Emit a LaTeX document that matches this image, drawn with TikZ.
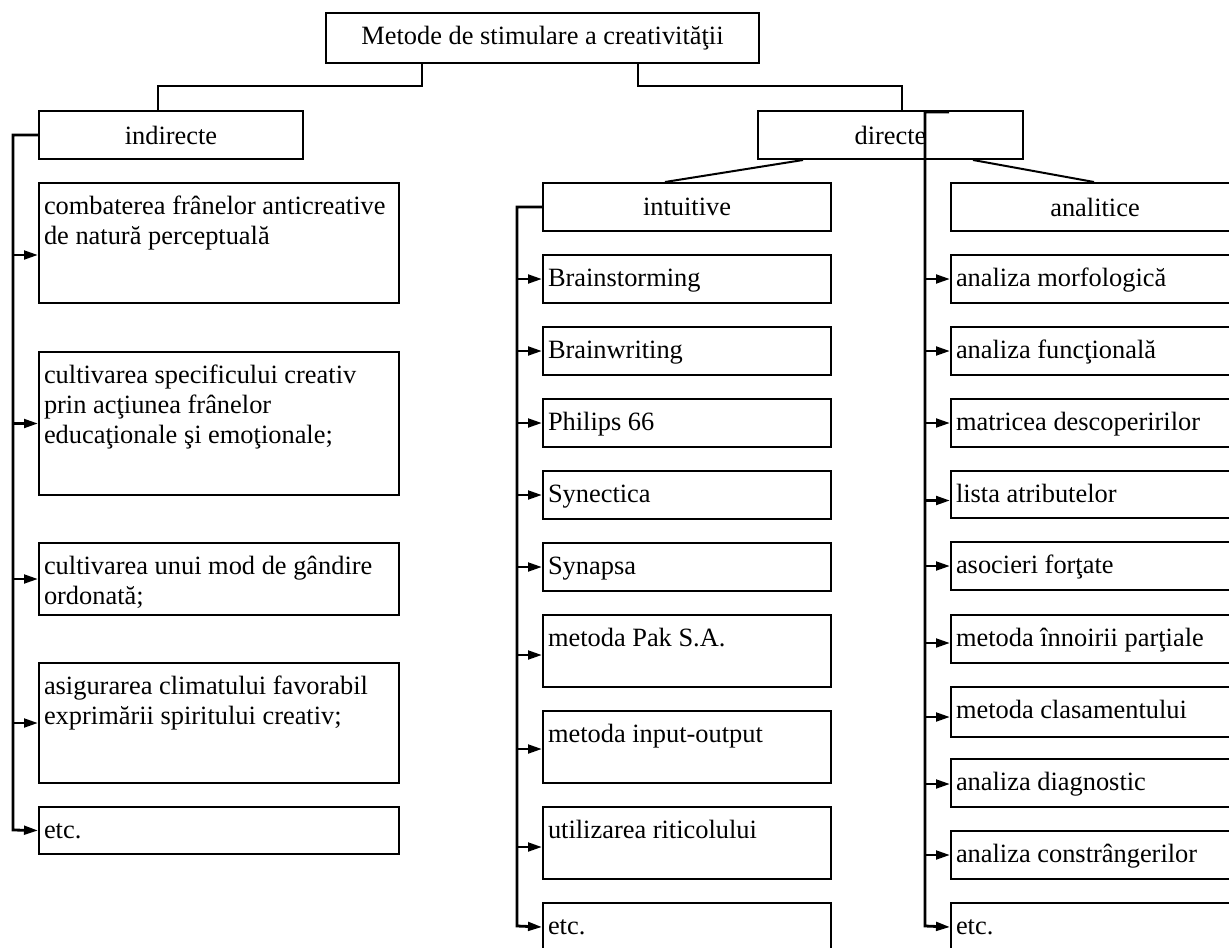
\documentclass[tikz,border=0pt]{standalone}
\usepackage{fontspec}
\setmainfont{Liberation Serif}
\usetikzlibrary{arrows.meta,calc}
\newlength\pxu \setlength\pxu{0.75pt}
\tikzset{
  txt/.style={font=\fontsize{19.8}{22.5}\selectfont},
  bx/.style={draw, line width=1.5pt, inner xsep=3.75pt, inner ysep=0pt, anchor=north west, txt},
  cbx/.style={draw, line width=1.5pt, inner sep=0pt, anchor=north west, align=center, txt},
  conn/.style={line width=1.5pt, line join=miter},
  arr/.style={line width=2.1pt, line join=miter, -{Triangle[length=10.5pt,width=6.5pt]}},
}
% \tbox{name}{x}{y}{w}{h}{text}
\newcommand\tbox[6]{\node[bx] (#1) at (#2,#3) {\parbox[c][#5\pxu][t]{\dimexpr#4\pxu-10\pxu\relax}{\raggedright\rule{0pt}{31\pxu}#6}};}
% \cbox{name}{x}{y}{w}{h}{text}
\newcommand\cbox[6]{\node[cbx, minimum width=#4*0.75pt, minimum height=#5*0.75pt] (#1) at (#2,#3) {#6};}
% \arrto{line coordinate}{node}{y offset px}
\newcommand\arrto[3]{\path ([yshift=-#3*0.75pt]#2.west) coordinate (tmp); \draw[arr] (tmp -| #1) -- (tmp);}
\begin{document}
\begin{tikzpicture}[x=0.75pt,y=-0.75pt]
\useasboundingbox (0,0) rectangle (1229,947);
\clip (0,0) rectangle (1229,947);

% top level
\cbox{top}{325}{12}{433}{50}{Metode de stimulare a creativităţii}
\cbox{ind}{38}{110}{264}{48}{indirecte}
\cbox{dir}{757}{110}{265}{48}{directe}
\cbox{int}{542}{182}{288}{48}{intuitive}
\cbox{ana}{950}{182}{288}{48}{analitice}

\coordinate (j1) at (422,86);
\coordinate (k1) at (158,86);
\coordinate (j2) at (638,86);
\coordinate (k2) at (902,86);
\draw[conn] (top.south -| j1) -- (j1) -- (k1) -- (k1 |- ind.north);
\draw[conn] (top.south -| j2) -- (j2) -- (k2) -- (k2 |- dir.north);
\draw[conn] ($(dir.south west)+(46,0)$) -- ($(int.north west)+(123,0)$);
\draw[conn] ($(dir.south west)+(216,0)$) -- ($(ana.north west)+(144,0)$);

% left column
\tbox{l1}{38}{182}{360}{120}{combaterea frânelor anticreative\\de natură perceptuală}
\tbox{l2}{38}{351}{360}{143}{cultivarea specificului creativ\\prin acţiunea frânelor\\educaţionale şi emoţionale;}
\tbox{l3}{38}{542}{360}{72}{cultivarea unui mod de gândire\\ordonată;}
\tbox{l4}{38}{662}{360}{120}{asigurarea climatului favorabil\\exprimării spiritului creativ;}
\tbox{l5}{38}{806}{360}{47}{etc.}

% middle column
\tbox{m1}{542}{254}{288}{48}{Brainstorming}
\tbox{m2}{542}{326}{288}{48}{Brainwriting}
\tbox{m3}{542}{398}{288}{48}{Philips 66}
\tbox{m4}{542}{470}{288}{48}{Synectica}
\tbox{m5}{542}{542}{288}{48}{Synapsa}
\tbox{m6}{542}{614}{288}{72}{metoda Pak S.A.}
\tbox{m7}{542}{710}{288}{72}{metoda input-output}
\tbox{m8}{542}{806}{288}{72}{utilizarea riticolului}
\tbox{m9}{542}{902}{288}{48}{etc.}

% right column
\tbox{r1}{950}{254}{288}{48}{analiza morfologică}
\tbox{r2}{950}{326}{288}{48}{analiza funcţională}
\tbox{r3}{950}{398}{288}{48}{matricea descoperirilor}
\tbox{r4}{950}{470}{288}{47}{lista atributelor}
\tbox{r5}{950}{541}{288}{48}{asocieri forţate}
\tbox{r6}{950}{614}{288}{48}{metoda înnoirii parţiale}
\tbox{r7}{950}{686}{288}{50}{metoda clasamentului}
\tbox{r8}{950}{758}{288}{48}{analiza diagnostic}
\tbox{r9}{950}{830}{288}{48}{analiza constrângerilor}
\tbox{r10}{950}{902}{288}{48}{etc.}

% brackets
\coordinate (L1) at (13,830);
\coordinate (M1) at (517,926);
\coordinate (R0) at (949,112);
\coordinate (R1) at (925,926);
\draw[arr] (ind.west) -| (L1) -- (l5.west);
\draw[arr] (int.west) -| (M1) -- (m9.west);
\draw[arr] (R0) -| (R1) -- (r10.west);

\arrto{L1}{l1}{12}
\arrto{L1}{l2}{0}
\arrto{L1}{l3}{0}
\arrto{L1}{l4}{0}

\arrto{M1}{m1}{0}
\arrto{M1}{m2}{0}
\arrto{M1}{m3}{0}
\arrto{M1}{m4}{0}
\arrto{M1}{m5}{0}
\arrto{M1}{m6}{4}
\arrto{M1}{m7}{2}
\arrto{M1}{m8}{4}

\arrto{R1}{r1}{0}
\arrto{R1}{r2}{0}
\arrto{R1}{r3}{0}
\arrto{R1}{r4}{6}
\arrto{R1}{r5}{0}
\arrto{R1}{r6}{4}
\arrto{R1}{r7}{5}
\arrto{R1}{r8}{1}
\arrto{R1}{r9}{0}
\end{tikzpicture}
\end{document}
